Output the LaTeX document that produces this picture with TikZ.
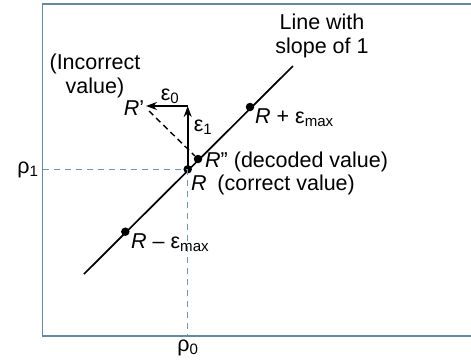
\documentclass[tikz,border=0pt]{standalone}
\usepackage{fontspec}
\setmainfont{Liberation Sans}
\usetikzlibrary{arrows.meta}
\definecolor{framecol}{RGB}{95,140,162}
\definecolor{dashcol}{RGB}{110,150,175}
\tikzset{
  dot/.style={circle,fill=black,inner sep=0pt,minimum size=8.5pt},
  lbl/.style={inner sep=0pt},
  guide/.style={dashcol,line width=1.3pt,dash pattern=on 6pt off 5pt},
  err/.style={line width=1.7pt,-{Stealth[length=11pt,width=8pt]}}
}
\begin{document}
\begin{tikzpicture}[x=1pt,y=-1pt,line cap=butt,
  font=\fontsize{21.5}{24}\selectfont]
  \useasboundingbox[fill=white] (0,0) rectangle (471,360);
  % frame
  \draw[framecol,line width=1.5pt] (480,4) -- (42.5,4) -- (42.5,336) -- (480,336);
  % line with slope 1
  \coordinate (lo) at (84,274);
  \coordinate (hi) at (293,66);
  \draw[line width=1.7pt] (lo) -- (hi);
  \node[dot] (R) at (187.7,169.3) {};
  \node[dot] (Rpp) at (198,159) {};
  \node[dot] (Rplus) at (250,107) {};
  \node[dot] (Rminus) at (125.3,231.7) {};
  % guides to the axes
  \node[lbl] (rho1) at (28,170) {ρ\textsubscript{1}};
  \node[lbl] (rho0) at (188,348) {ρ\textsubscript{0}};
  \coordinate (left) at (42.5,169.3);
  \coordinate (bot) at (187.7,336);
  \draw[guide] (left) -- (R.center);
  \draw[guide] (R.center) -- (bot);
  % error vector
  \coordinate (corner) at (187.7,106);
  \coordinate (Rp) at (146,106);
  \draw[err] (R.center) -- (corner);
  \draw[err] (corner) -- (Rp);
  \draw[line width=1.4pt,dash pattern=on 6pt off 4pt] (149,111) -- (Rpp);
  % labels
  \node[lbl] (e0) at (170,96) {ε\textsubscript{0}};
  \node[lbl] (e1) at (203,127) {ε\textsubscript{1}};
  \node[lbl] (Rptxt) at (134,108) {\textit{R}'};
  \node[lbl,align=center] (inc) at (95,76) {(Incorrect\\value)};
  \node[lbl,align=center] (slope) at (322,36) {Line with\\slope of 1};
  \node[lbl,anchor=west] (dec) at (205,162) {\textit{R}" (decoded value)};
  \node[lbl,anchor=west] (cor) at (191,185) {\textit{R}\enspace(correct value)};
  \node[lbl,anchor=west] (Rpt) at (255,118) {\textit{R} + ε\textsubscript{max}};
  \node[lbl,anchor=west] (Rmt) at (131,243) {\textit{R} – ε\textsubscript{max}};
\end{tikzpicture}
\end{document}
